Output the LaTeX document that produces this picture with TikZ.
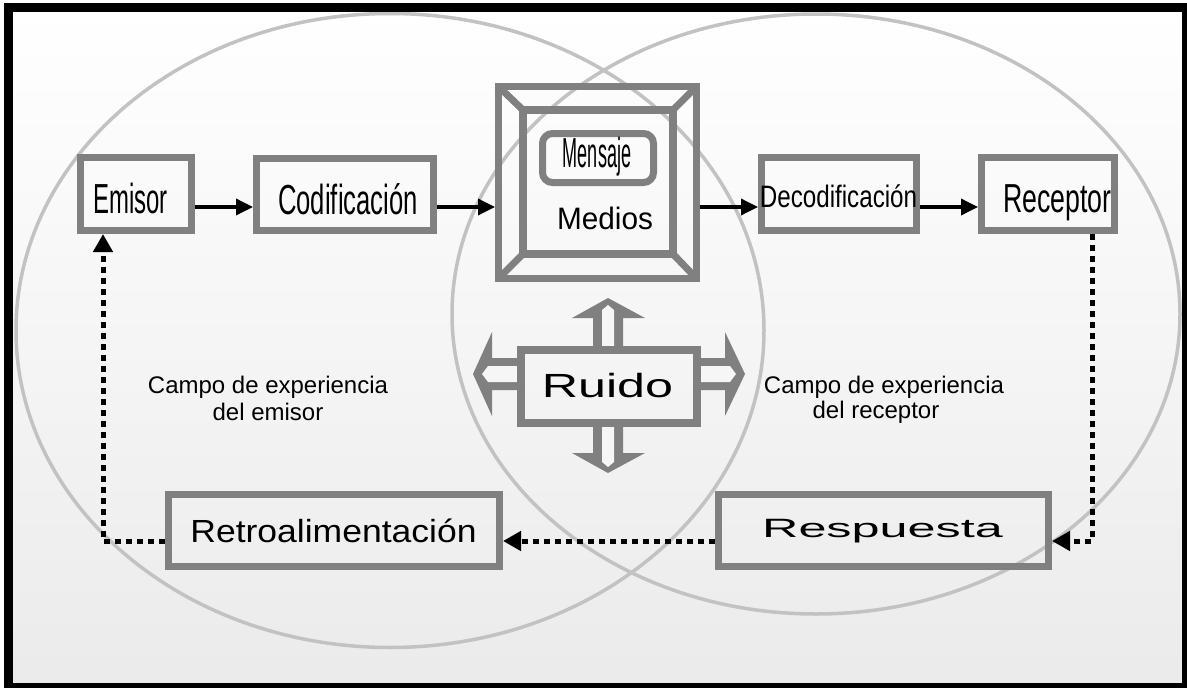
\documentclass[tikz,border=0pt]{standalone}
\usepackage{fontspec}
\usepackage{graphicx}
\setmainfont{Liberation Sans}
\usetikzlibrary{arrows.meta}
\newcommand{\tx}[3]{{\fontsize{#1}{#1}\selectfont\scalebox{#2}[1]{#3}}}
\definecolor{boxgray}{HTML}{808080}
\definecolor{ellgray}{HTML}{C2C2C2}
\definecolor{inlight}{HTML}{F6F6F6}
\tikzset{
  gbox/.style={draw=boxgray, line width=7pt, rectangle, minimum width=#1, inner sep=0pt},
  lbl/.style={anchor=base, inner sep=0pt, outer sep=0pt, text=black},
  ell/.style={draw=ellgray, line width=3.5pt},
  arr/.style={line width=3.5pt, -{Triangle[length=17pt,width=16pt]}},
  dotarr/.style={line width=5pt, dash pattern=on 6pt off 5pt, -{Triangle[length=18pt,width=19pt]}},
  nzout/.style={fill=boxgray, draw=none},
  nzin/.style={fill=inlight, draw=none}
}
\begin{document}
\begin{tikzpicture}[x=1pt,y=-1pt]
\useasboundingbox (0,0) rectangle (1187,688);
% background
\shade[top color=white, bottom color=black!8] (8,7) rectangle (1187,688);
% experience fields
\draw[ell] (390,330.5) ellipse [x radius=374, y radius=317];
\draw[ell] (816,314) ellipse [x radius=364, y radius=300];
% top row boxes
\node[gbox=111pt, minimum height=73pt] (emisor) at (136,194) {};
\node[gbox=177pt, minimum height=72.5pt] (codif) at (345,194.25) {};
\node[gbox=155pt, minimum height=73pt] (decod) at (839,194) {};
\node[gbox=133pt, minimum height=73pt] (receptor) at (1048,194) {};
% Medios (bevelled frame)
\node[gbox=198pt, minimum height=192pt] (medios) at (597.5,182.5) {};
\node[draw=boxgray, line width=8pt, minimum width=150pt, minimum height=144pt, inner sep=0pt] (mediosin) at (598,182) {};
\draw[boxgray, line width=7pt] (498.5,86.5) -- (523,110);
\draw[boxgray, line width=7pt] (696.5,86.5) -- (673,110);
\draw[boxgray, line width=7pt] (498.5,278.5) -- (523,254);
\draw[boxgray, line width=7pt] (696.5,278.5) -- (673,254);
\node[draw=boxgray, line width=7pt, rounded corners=10pt, minimum width=111pt, minimum height=49pt, inner sep=0pt] (mensaje) at (598,158) {};
% bottom boxes
\node[gbox=331pt, minimum height=72pt] (retro) at (334,530.5) {};
\node[gbox=330pt, minimum height=72pt] (resp) at (883.5,530.5) {};
% Ruido arrows
\fill[nzout] (593,347) -- (593,318) -- (572,318) -- (608,298) -- (645,318) -- (623,318) -- (623,347) -- cycle;
\fill[nzin] (602,347) -- (602,310) -- (608,305) -- (614,310) -- (614,347) -- cycle;
\fill[nzout] (593,426) -- (593,453) -- (572,453) -- (608,473) -- (645,453) -- (623,453) -- (623,426) -- cycle;
\fill[nzin] (602,426) -- (602,462) -- (608,467) -- (614,462) -- (614,426) -- cycle;
\fill[nzout] (518,358) -- (492,358) -- (492,332) -- (473,374) -- (492,416) -- (492,390) -- (518,390) -- cycle;
\fill[nzin] (518,366) -- (488,366) -- (482,374) -- (488,382) -- (518,382) -- cycle;
\fill[nzout] (700,358) -- (725,358) -- (725,332) -- (745,374) -- (725,416) -- (725,390) -- (700,390) -- cycle;
\fill[nzin] (700,366) -- (730,366) -- (736,374) -- (730,382) -- (700,382) -- cycle;
\node[draw=boxgray, line width=8pt, minimum width=176pt, minimum height=73pt, inner sep=0pt] (ruido) at (609,386.5) {};
% labels
\node[lbl] (temisor) at (130.5,213) {\tx{42}{0.57}{Emisor}};
\node[lbl] (tcodif) at (348,214) {\tx{42}{0.61}{Codificación}};
\node[lbl] (tdecod) at (838.5,207) {\tx{31}{0.78}{Decodificación}};
\node[lbl] (trecep) at (1057.5,212) {\tx{40.5}{0.66}{Receptor}};
\node[lbl] (tmensaje) at (597,167) {\tx{42}{0.43}{Mensaje}};
\node[lbl] (tmedios) at (605,229) {\tx{31}{0.96}{Medios}};
\node[lbl] (truido) at (607.5,397) {\tx{33.5}{1.5}{Ruido}};
\node[lbl] (tretro) at (333.5,542) {\tx{32}{1.11}{Retroalimentación}};
\node[lbl] (tresp) at (882.5,537) {\tx{26.5}{1.9}{Respuesta}};
\node[lbl] (campo1a) at (268,393) {\tx{24}{1}{Campo de experiencia}};
\node[lbl] (campo1b) at (268,420) {\tx{24}{1}{del emisor}};
\node[lbl] (campo2a) at (884,393) {\tx{24}{1}{Campo de experiencia}};
\node[lbl] (campo2b) at (876,418) {\tx{24}{1}{del receptor}};
% connectors
\coordinate (ay) at (0,207);
\coordinate (fbR) at (1092,541);
\coordinate (fbL) at (103,541);
\draw[arr] (emisor.east |- ay) -- (codif.west |- ay);
\draw[arr] (codif.east |- ay) -- (medios.west |- ay);
\draw[arr] (medios.east |- ay) -- (decod.west |- ay);
\draw[arr] (decod.east |- ay) -- (receptor.west |- ay);
\draw[dotarr] (receptor.south -| fbR) -- (fbR) -- (resp.east |- fbR);
\draw[dotarr] (resp.west |- fbR) -- (retro.east |- fbR);
\draw[dotarr] (retro.west |- fbR) -- (fbL) -- (emisor.south -| fbL);
% outer frame
\draw[line width=9pt] (8.5,7.5) rectangle (1186.5,687.5);
\end{tikzpicture}
\end{document}
